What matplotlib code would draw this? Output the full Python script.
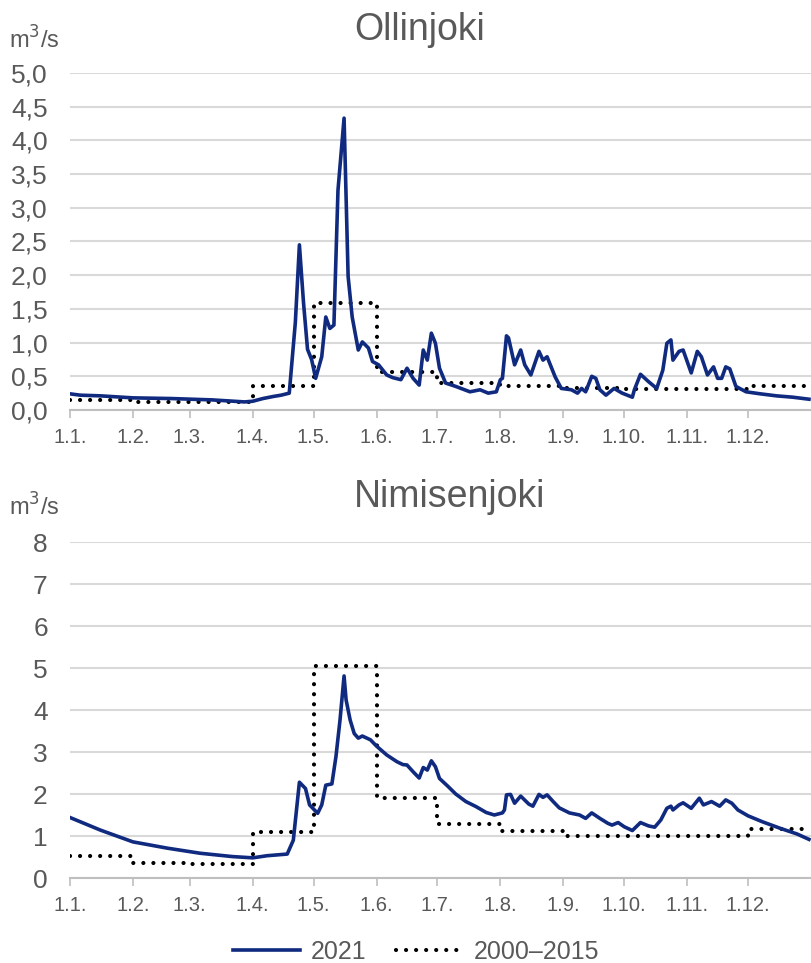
import numpy as np
import matplotlib
matplotlib.use("Agg")
import matplotlib.pyplot as plt

plt.rcParams['font.family'] = ['Liberation Sans', 'DejaVu Sans']

# month start days (day of year, 0 = 1.1.)
month_starts = [0, 31, 59, 90, 120, 151, 181, 212, 243, 273, 304, 334]
month_labels = ['1.1.', '1.2.', '1.3.', '1.4.', '1.5.', '1.6.',
                '1.7.', '1.8.', '1.9.', '1.10.', '1.11.', '1.12.']

# Ollinjoki 2021 (day, m3/s)
olli_days = [0, 5, 15, 31, 50, 70, 86, 90, 95, 100, 104, 108, 111, 113, 115, 117,
             119, 121, 124, 126, 128, 130, 132, 135, 137, 139, 142, 144, 147, 149,
             152, 156, 159, 163, 166, 169, 172, 174, 176, 178, 180, 182, 185, 190,
             197, 202, 206, 210, 212, 213, 215, 216, 219, 222, 224, 227, 231, 233,
             235, 239, 242, 247, 250, 252, 254, 257, 259, 261, 264, 268, 272, 277,
             278, 281, 285, 289, 292, 294, 296, 297, 300, 302, 306, 309, 311, 314,
             317, 319, 321, 323, 325, 328, 333, 340, 348, 356, 364]
olli_2021 = [0.24, 0.22, 0.21, 0.18, 0.17, 0.15, 0.12, 0.13, 0.17, 0.20, 0.22, 0.25, 1.3, 2.45, 1.6, 0.9,
             0.75, 0.47, 0.79, 1.38, 1.21, 1.26, 3.26, 4.33, 1.98, 1.38, 0.89, 1.01, 0.92, 0.72,
             0.67, 0.52, 0.48, 0.45, 0.62, 0.47, 0.37, 0.89, 0.74, 1.14, 0.99, 0.62, 0.40, 0.35,
             0.27, 0.30, 0.25, 0.27, 0.45, 0.47, 1.10, 1.07, 0.67, 0.89, 0.67, 0.52, 0.87, 0.74,
             0.79, 0.49, 0.32, 0.30, 0.25, 0.32, 0.27, 0.50, 0.47, 0.30, 0.22, 0.32, 0.25, 0.19,
             0.30, 0.53, 0.42, 0.32, 0.59, 0.99, 1.04, 0.74, 0.87, 0.89, 0.55, 0.87, 0.79, 0.52,
             0.64, 0.47, 0.47, 0.64, 0.61, 0.35, 0.27, 0.24, 0.21, 0.19, 0.16]
# Ollinjoki monthly mean 2000-2015
olli_mean = [0.15, 0.12, 0.12, 0.35, 1.59, 0.57, 0.40, 0.35, 0.32, 0.31, 0.31, 0.36]

# Nimisenjoki 2021
nimi_days = [0, 15, 31, 48, 64, 80, 90, 97, 107, 110, 113, 116, 118, 122, 124, 126,
             129, 131, 133, 135, 136, 138, 140, 142, 144, 148, 151, 156, 161, 164,
             166, 169, 172, 174, 176, 178, 180, 182, 186, 190, 195, 200, 205, 209,
             213, 214, 215, 217, 219, 222, 226, 228, 231, 233, 235, 238, 241, 246,
             251, 254, 257, 261, 265, 267, 270, 273, 277, 281, 285, 288, 291, 294,
             296, 297, 300, 302, 306, 310, 312, 316, 320, 323, 326, 329, 334, 341,
             350, 358, 364]
nimi_2021 = [1.44, 1.14, 0.86, 0.71, 0.59, 0.51, 0.48, 0.53, 0.57, 0.90, 2.28, 2.13, 1.74, 1.54, 1.74, 2.21,
             2.24, 2.89, 3.76, 4.81, 4.24, 3.76, 3.44, 3.33, 3.38, 3.29, 3.14, 2.93, 2.77, 2.70,
             2.69, 2.53, 2.38, 2.63, 2.57, 2.79, 2.65, 2.37, 2.19, 2.00, 1.82, 1.70, 1.56, 1.50,
             1.55, 1.62, 1.98, 1.99, 1.78, 1.95, 1.76, 1.71, 1.99, 1.92, 1.98, 1.82, 1.67, 1.55,
             1.50, 1.42, 1.55, 1.42, 1.30, 1.26, 1.32, 1.22, 1.13, 1.32, 1.24, 1.21, 1.38, 1.66,
             1.71, 1.62, 1.74, 1.79, 1.66, 1.90, 1.74, 1.82, 1.71, 1.86, 1.78, 1.62, 1.48, 1.34,
             1.18, 1.05, 0.92]
nimi_mean = [0.52, 0.36, 0.33, 1.09, 5.05, 1.90, 1.28, 1.12, 1.00, 1.00, 1.00, 1.16]

navy = '#0f2a7f'
grey_txt = '#595959'
grid_col = '#d9d9d9'

fig = plt.figure(figsize=(8.11, 9.63), dpi=100)
ax1 = fig.add_axes([70 / 811, 1 - 410 / 963, 741 / 811, 337 / 963])
ax2 = fig.add_axes([70 / 811, 1 - 878 / 963, 741 / 811, 336 / 963])

step_x = month_starts + [365]


def setup(ax, ymax, ystep, fmt):
    ax.set_xlim(0, 365)
    ax.set_ylim(0, ymax)
    yt = np.arange(0, ymax + ystep / 2, ystep)
    ax.set_yticks(yt)
    ax.set_yticklabels([fmt(v) for v in yt])
    ax.set_xticks(month_starts)
    ax.set_xticklabels(month_labels)
    ax.grid(axis='y', color=grid_col, linewidth=1.5)
    ax.set_axisbelow(True)
    for s in ['top', 'right', 'left']:
        ax.spines[s].set_visible(False)
    ax.spines['bottom'].set_color('#bfbfbf')
    ax.spines['bottom'].set_linewidth(1.5)
    ax.tick_params(axis='y', length=0, pad=16, labelsize=19, labelcolor=grey_txt)
    ax.tick_params(axis='x', length=6, width=1.2, color='#bfbfbf', pad=7,
                   labelsize=14.5, labelcolor=grey_txt)


setup(ax1, 5.0, 0.5, lambda v: f"{v:.1f}".replace('.', ','))
setup(ax2, 8, 1, lambda v: f"{v:.0f}")

dot_style = dict(color='black', linewidth=3, linestyle=(0, (0.01, 2.4)),
                 dash_capstyle='round', drawstyle='steps-post')

ax1.plot(step_x, olli_mean + [olli_mean[-1]], **dot_style, label='2000–2015')
ax1.plot(olli_days, olli_2021, color=navy, linewidth=2.6, label='2021')
ax2.plot(step_x, nimi_mean + [nimi_mean[-1]], **dot_style, label='2000–2015')
ax2.plot(nimi_days, nimi_2021, color=navy, linewidth=2.6, label='2021')

fig.text(420 / 811, 1 - 30 / 963, 'Ollinjoki', ha='center', va='center',
         fontsize=27, color=grey_txt)
fig.text(450 / 811, 1 - 497 / 963, 'Nimisenjoki', ha='center', va='center',
         fontsize=27, color=grey_txt)
fig.text(9 / 811, 1 - 40 / 963, 'm$^3$/s', ha='left', va='center',
         fontsize=17, color=grey_txt)
fig.text(9 / 811, 1 - 507 / 963, 'm$^3$/s', ha='left', va='center',
         fontsize=17, color=grey_txt)

handles, labels = ax2.get_legend_handles_labels()
fig.legend(handles[::-1], labels[::-1], loc='center', ncol=2,
           bbox_to_anchor=(416 / 811, 1 - 952 / 963), frameon=False,
           fontsize=18, labelcolor=grey_txt, handlelength=2.7,
           handletextpad=0.4, columnspacing=1.2)

fig.savefig('out.png', dpi=100)
